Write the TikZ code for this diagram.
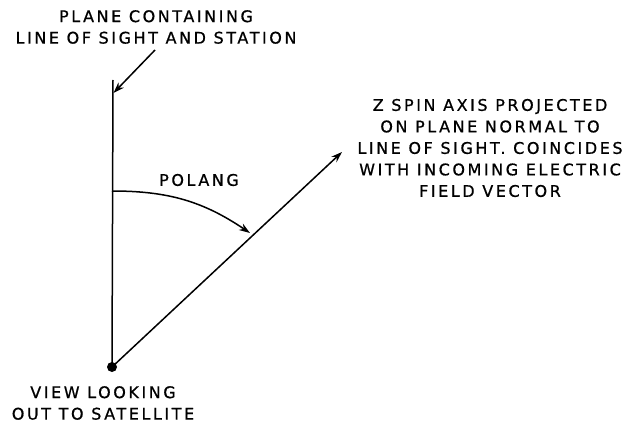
\documentclass[tikz,border=0pt]{standalone}
\usepackage{fontspec}
\setmainfont{DejaVu Sans}[LetterSpace=16,FakeBold=0.8]
\usetikzlibrary{arrows.meta}
\begin{document}
\begin{tikzpicture}[x=1pt,y=1pt,
  lbl/.style={align=center,font=\fontsize{16}{21.5}\selectfont,inner sep=0pt},
  ln/.style={line width=1.5pt},
  arr/.style={ln,-{Stealth[length=11pt,width=7.5pt]}}]
\useasboundingbox (0,0) rectangle (640,424);
\node[circle,fill=black,inner sep=0pt,minimum size=10pt] (o) at (112,57) {};
\coordinate (top) at (113,344);
\coordinate (zend) at (342,272);
\coordinate (ptr) at (155,374);
\coordinate (ptip) at (113.5,331);
\coordinate (a1) at (112,233);
\coordinate (a2) at (250,191);
\draw[ln] (o.center) -- (top);
\draw[arr] (o.center) -- (zend);
\draw[arr] (ptr) -- (ptip);
\draw[arr] (a1) to[out=0,in=146] (a2);
\node[lbl] (tl) at (156,397) {PLANE CONTAINING\\LINE OF SIGHT AND STATION};
\node[lbl] (rl) at (490,276) {Z SPIN AXIS PROJECTED\\ON PLANE NORMAL TO\\LINE OF SIGHT. COINCIDES\\WITH INCOMING ELECTRIC\\FIELD VECTOR};
\node[lbl] (pl) at (199,244) {POLANG};
\node[lbl] (bl) at (103,21) {VIEW LOOKING\\OUT TO SATELLITE};
\end{tikzpicture}
\end{document}
